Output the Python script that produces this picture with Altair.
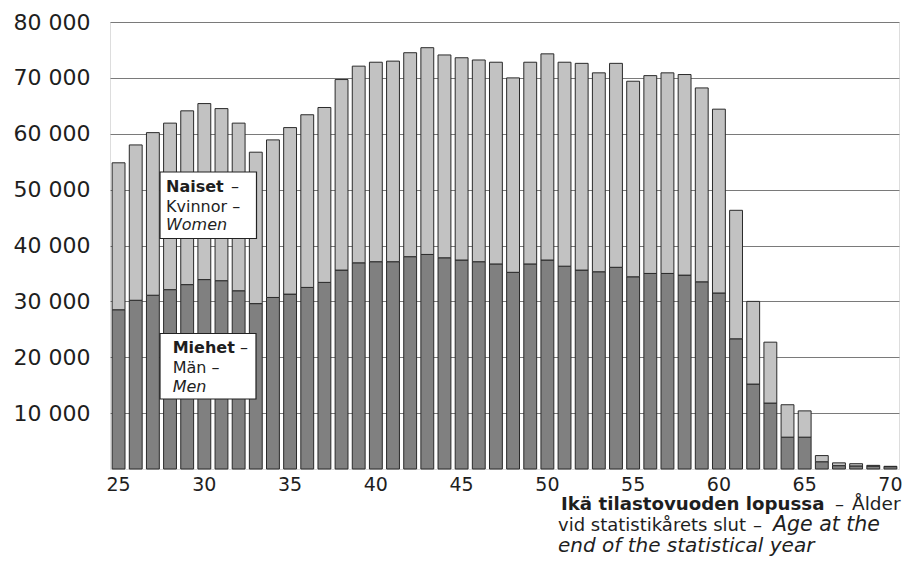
import altair as alt
import pandas as pd

# ---- data ----
ages = list(range(25, 71))
men = [28500, 30200, 31100, 32100, 33000, 33900, 33700, 31900, 29600, 30700,
       31300, 32500, 33400, 35600, 36900, 37100, 37100, 38000, 38400, 37800,
       37400, 37100, 36700, 35200, 36700, 37400, 36300, 35600, 35300, 36100,
       34400, 35000, 35000, 34700, 33500, 31500, 23300, 15200, 11800, 5700,
       5700, 1300, 600, 550, 500, 420]
women = [26300, 27800, 29100, 29800, 31100, 31500, 30800, 30000, 27100, 28200,
         29800, 30900, 31300, 34100, 35200, 35700, 35900, 36500, 37000, 36300,
         36200, 36100, 36100, 34800, 36100, 36900, 36500, 37000, 35600, 36500,
         35000, 35400, 35900, 35900, 34700, 32900, 23000, 14800, 10900, 5800,
         4700, 1100, 500, 400, 150, 60]
series_names = ["Miehet", "Naiset"]
series_colors = ["#808080", "#c2c2c2"]
y_ticks = [10000, 20000, 30000, 40000, 50000, 60000, 70000, 80000]
x_ticks = [25, 30, 35, 40, 45, 50, 55, 60, 65, 70]

rows = []
for a, m, w in zip(ages, men, women):
    rows.append({"age": a, "series": series_names[0], "ord": 0, "value": m})
    rows.append({"age": a, "series": series_names[1], "ord": 1, "value": w})
df = pd.DataFrame(rows)

FONT = "DejaVu Sans"
TXT = "#1e1e1e"

bars = alt.Chart(df).mark_bar(stroke="#2a2a2a", strokeWidth=1).encode(
    x=alt.X("age:O",
            scale=alt.Scale(paddingInner=0.25, paddingOuter=0.125),
            axis=alt.Axis(values=x_ticks, title=None, labelAngle=0, ticks=False,
                          domain=False, labelPadding=6, labelFontSize=19,
                          labelFont=FONT, labelColor=TXT)),
    y=alt.Y("value:Q", stack="zero",
            scale=alt.Scale(domain=[0, 80000], nice=False),
            axis=alt.Axis(values=y_ticks, title=None, ticks=False, domain=False,
                          labelPadding=20, labelFontSize=22, labelFont=FONT,
                          labelColor=TXT, gridColor="#7a7a7a", gridWidth=1,
                          labelExpr="replace(format(datum.value, ','), ',', ' ')")),
    color=alt.Color("series:N", legend=None,
                    scale=alt.Scale(domain=series_names, range=series_colors)),
    order=alt.Order("ord:Q", sort="ascending"),
)


def box(x1, y1, x2, y2):
    return alt.Chart(pd.DataFrame({"k": [0]})).mark_rect(
        fill="white", stroke="#222222", strokeWidth=1.2
    ).encode(x=alt.value(x1), x2=alt.value(x2), y=alt.value(y1), y2=alt.value(y2))


def label(text, x, y, size, weight="normal", style="normal"):
    return alt.Chart(pd.DataFrame({"t": [text]})).mark_text(
        align="left", baseline="alphabetic", font=FONT, fontSize=size,
        fontWeight=weight, fontStyle=style, color=TXT
    ).encode(text="t:N", x=alt.value(x), y=alt.value(y))


layers = [
    bars,
    box(50, 150, 146.5, 216.5),
    label("Naiset", 56, 169.7, 16, weight="bold"),
    label("–", 121, 169.7, 16),
    label("Kvinnor –", 56, 189.7, 16),
    label("Women", 56, 208, 16, style="italic"),
    box(50, 311.5, 146, 377),
    label("Miehet", 62.7, 331.3, 16, weight="bold"),
    label("–", 130, 331.3, 16),
    label("Män –", 62.7, 351.3, 16),
    label("Men", 62.7, 369.7, 16, style="italic"),
    label("Ikä tilastovuoden lopussa", 451, 488, 18.2, weight="bold"),
    label("–", 725, 488, 18),
    label("Ålder", 742, 488, 18.5),
    label("vid statistikårets slut", 448, 509, 18),
    label("–", 643, 509, 18),
    label("Age at the", 663, 509, 20.5, style="italic"),
    label("end of the statistical year", 448, 530, 20, style="italic"),
]

chart = alt.layer(*layers).properties(
    width=789, height=447,
    padding={"left": 102, "top": 14, "right": 4, "bottom": 91},
    autosize=alt.AutoSizeParams(type="none"),
).configure_view(stroke="#333333", strokeWidth=1.3).configure(background="white")

chart.save("out.html", embed_options={"renderer": "svg", "actions": False})
